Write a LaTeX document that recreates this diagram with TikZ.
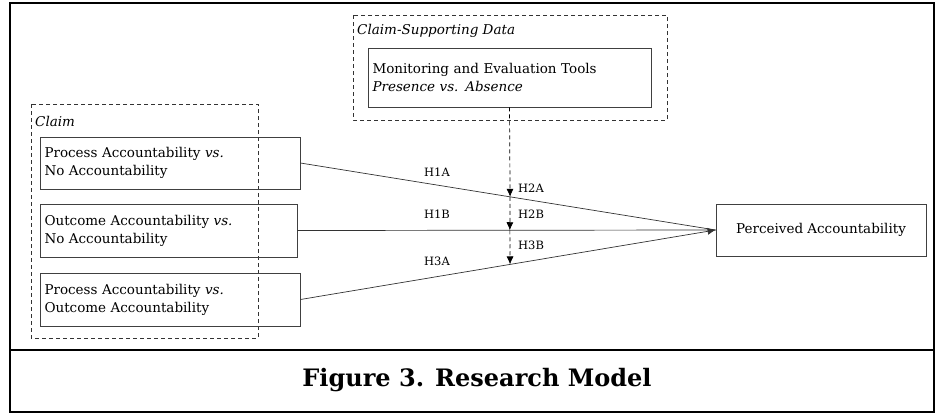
\documentclass[tikz,border=0pt]{standalone}
\usepackage{fontspec}
\setmainfont{DejaVu Serif}
\usetikzlibrary{arrows.meta,calc}
\tikzset{
  x=1pt, y=-1pt,
  varbox/.style = {draw=black!75, line width=0.8pt, inner sep=0pt, align=left, font=\fontsize{13.5}{18}\selectfont},
  groupbox/.style = {draw=black!80, dash pattern=on 4pt off 3pt, line width=0.7pt},
  grouplabel/.style = {anchor=west, inner sep=0pt, font=\fontsize{13.5}{16}\selectfont\itshape},
  hyp/.style = {inner sep=1pt, font=\fontsize{11.5}{14}\selectfont},
  tip/.style = {-{Latex[length=8pt,width=7pt]}},
  effect/.style = {draw=black!80, line width=0.7pt},
  moderation/.style = {draw=black, dash pattern=on 4pt off 3pt, line width=0.7pt, tip}
}

\begin{document}
\begin{tikzpicture}
% frame and caption panel
\useasboundingbox (0,0) rectangle (935,413);
\draw[line width=2pt] (10,3) rectangle (934,412);
\draw[line width=2pt] (10,350) -- (934,350);
\node[font=\fontsize{24}{26}\selectfont\bfseries] (caption) at (477,380) {Figure 3. Research Model};

% grouping frames
\draw[groupbox] (31,104) rectangle (258,338);
\node[grouplabel] (claimlbl) at (35,121) {Claim};
\draw[groupbox] (353,15) rectangle (667,120);
\node[grouplabel] (datalbl) at (357,31) {Claim-Supporting Data};

% variables
\node[varbox, minimum width=260pt, minimum height=52pt, text width=251pt] (pa_na) at (170,163)
  {Process Accountability \textit{vs.}\\No Accountability};
\node[varbox, minimum width=257pt, minimum height=53pt, text width=248pt] (oa_na) at (168.5,230.5)
  {Outcome Accountability \textit{vs.}\\No Accountability};
\node[varbox, minimum width=260pt, minimum height=53pt, text width=251pt] (pa_oa) at (170,299.5)
  {Process Accountability \textit{vs.}\\Outcome Accountability};
\node[varbox, minimum width=283pt, minimum height=59pt, text width=274pt] (tools) at (509.5,77.5)
  {Monitoring and Evaluation Tools\\\textit{Presence vs. Absence}};
\node[varbox, align=center, minimum width=210pt, minimum height=52pt] (perceived) at (821,230)
  {Perceived Accountability};

% main effects
\draw[effect] (pa_na.east) -- coordinate[pos=0.505] (m1) (perceived.west);
\draw[effect] (oa_na.east) -- coordinate[pos=0.508] (m2) (perceived.west);
\draw[effect, tip] (pa_oa.east) -- coordinate[pos=0.505] (m3) (perceived.west);
\node[hyp] (h1a) at (437,172) {H1A};
\node[hyp] (h1b) at (437,214) {H1B};
\node[hyp] (h3a) at (437,261) {H3A};

% moderating paths
\draw[moderation] (tools.south) -- (m1);
\draw[moderation] (m1) -- (m2);
\draw[moderation] (m2) -- (m3);
\node[hyp, anchor=west] (h2a) at (517,188) {H2A};
\node[hyp, anchor=west] (h2b) at (517,214) {H2B};
\node[hyp, anchor=west] (h3b) at (517,245) {H3B};
\end{tikzpicture}
\end{document}
